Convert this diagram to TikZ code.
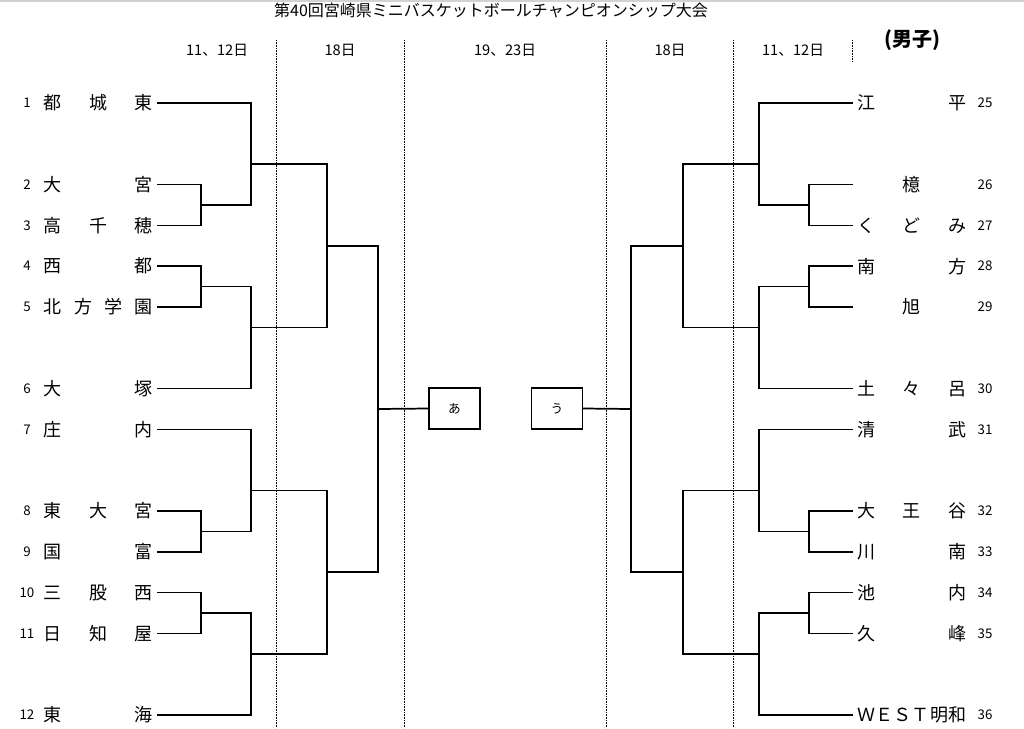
\documentclass[tikz,border=0pt]{standalone}
\usepackage{fontspec}
\newfontfamily\jpfont{Noto Sans CJK JP}
\usetikzlibrary{positioning}
\tikzstyle{team} = [font=\jpfont\fontsize{13.5}{14}\selectfont, inner sep=0pt, inner xsep=3pt]
\tikzstyle{num} = [font=\jpfont\fontsize{10}{11}\selectfont, inner sep=0pt]
\tikzstyle{day} = [font=\jpfont\fontsize{11}{12}\selectfont, inner sep=1pt]
\tikzstyle{final} = [draw, line width=1pt, minimum width=38.25pt, minimum height=30.75pt, inner sep=0pt, font=\jpfont\fontsize{9.5}{10}\selectfont]
\tikzstyle{bracket} = [line width=1.3pt]
\tikzstyle{daysep} = [line width=0.7pt, dash pattern=on 0.6pt off 0.6pt]

\begin{document}
\begin{tikzpicture}[x=0.75pt, y=-0.75pt]
\useasboundingbox (0,0) rectangle (1024,728);
\draw[gray!35, line width=1.5pt] (0,1) -- (1024,1);
% title and days
\node[day, font=\jpfont\fontsize{12}{13}\selectfont] (title) at (491,10) {第40回宮崎県ミニバスケットボールチャンピオンシップ大会};
\node[font=\jpfont\bfseries\fontsize{15}{16}\selectfont, inner sep=0pt] (sex) at (912,40) {(男子)};
\foreach \n/\x/\t in {d1/217/11、12日, d2/340/18日, d3/505/19、23日, d4/670/18日, d5/793/11、12日}
	\node[day] (\n) at (\x,50) {\t};
\foreach \x in {276,404,606,733}
	\draw[daysep] (\x,40) -- (\x,728);
\draw[daysep] (852,40) -- (852,62);

% left side teams
\foreach \n/\k/\name in {1/0/都\hfill 城\hfill 東, 2/2/大\hfill 宮, 3/3/高\hfill 千\hfill 穂,
	4/4/西\hfill 都, 5/5/北\hfill 方\hfill 学\hfill 園, 6/7/大\hfill 塚, 7/8/庄\hfill 内,
	8/10/東\hfill 大\hfill 宮, 9/11/国\hfill 富, 10/12/三\hfill 股\hfill 西,
	11/13/日\hfill 知\hfill 屋, 12/15/東\hfill 海}
{
	\node[num] (n\n) at (27,{103+40.8*\k}) {\n};
	\node[team, anchor=east] (L\n) at (157,{103+40.8*\k}) {\makebox[81.75pt][s]{\name}};
}
% right side teams
\foreach \n/\k/\name in {25/0/江\hfill 平, 26/2/\hfill 檍\hfill\null, 27/3/く\hfill ど\hfill み,
	28/4/南\hfill 方, 29/5/\hfill 旭\hfill\null, 30/7/土\hfill 々\hfill 呂, 31/8/清\hfill 武,
	32/10/大\hfill 王\hfill 谷, 33/11/川\hfill 南, 34/12/池\hfill 内, 35/13/久\hfill 峰,
	36/15/Ｗ\hfill Ｅ\hfill Ｓ\hfill Ｔ\hfill 明\hfill 和}
{
	\node[num] (n\n) at (985,{103+40.8*\k}) {\n};
	\node[team, anchor=west] (R\n) at (853,{103+40.8*\k}) {\makebox[81.75pt][s]{\name}};
}

% match points
\foreach \n/\x/\y in {a23/201/205, b13/251/164.2, a45/201/286.6, b46/251/327.4,
	c16/327/245.8, a89/201/531.4, b79/251/490.6, a1011/201/613, b1012/251/653.8,
	c712/327/572.2, dL/378/409,
	a2627/809/205, b2527/759/164.2, a2829/809/286.6, b2830/759/327.4,
	c2530/683/245.8, a3233/809/531.4, b3133/759/490.6, a3435/809/613, b3436/759/653.8,
	c3136/683/572.2, dR/631/409}
	\coordinate (\n) at (\x,\y);

\node[final] (finA) at (454.5,408.5) {あ};
\node[final, right=37.5pt of finA] (finU) {う};

% brackets
\foreach \u/\o/\l in {L2.east/a23/L3.east, L1.east/b13/a23, L4.east/a45/L5.east,
	a45/b46/L6.east, b13/c16/b46, L8.east/a89/L9.east, L7.east/b79/a89,
	L10.east/a1011/L11.east, a1011/b1012/L12.east, b79/c712/b1012, c16/dL/c712,
	R26.west/a2627/R27.west, R25.west/b2527/a2627, R28.west/a2829/R29.west,
	a2829/b2830/R30.west, b2527/c2530/b2830, R32.west/a3233/R33.west,
	R31.west/b3133/a3233, R34.west/a3435/R35.west, a3435/b3436/R36.west,
	b3133/c3136/b3436, c2530/dR/c3136}
	\draw[bracket] (\u) -| (\o) |- (\l);
\draw[bracket] (dL) -- (finA.west);
\draw[bracket] (dR) -- (finU.east);
\end{tikzpicture}
\end{document}
